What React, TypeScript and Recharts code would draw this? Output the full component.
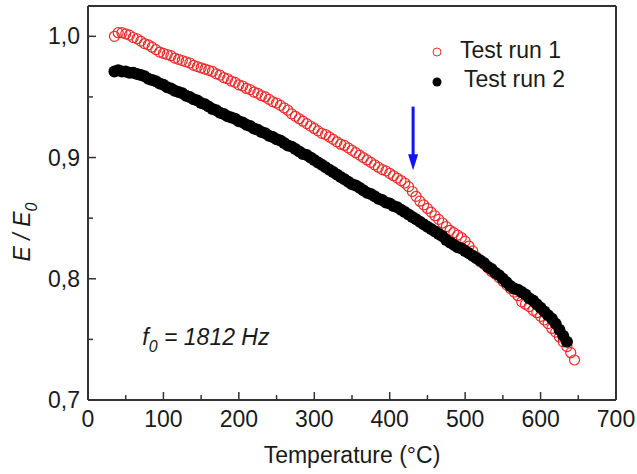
import React from "react";
import {
  ScatterChart,
  Scatter,
  XAxis,
  YAxis,
  ReferenceLine,
  ReferenceDot,
  Legend,
} from "recharts";

// Test run 1 (open red circles), temperature in °C and E/E0
const temps1 = [
  35, 40, 45, 50, 55, 60, 65, 70, 75, 80, 85, 90, 95, 100, 105, 110, 115, 120, 125, 130,
  135, 140, 145, 150, 155, 160, 165, 170, 175, 180, 185, 190, 195, 200, 205, 210, 215, 220,
  225, 230, 235, 240, 245, 250, 255, 260, 265, 270, 275, 280, 285, 290, 295, 300, 305, 310,
  315, 320, 325, 330, 335, 340, 345, 350, 355, 360, 365, 370, 375, 380, 385, 390, 395, 400,
  405, 410, 415, 420, 425, 430, 435, 440, 445, 450, 455, 460, 465, 470, 475, 480, 485, 490,
  495, 500, 505, 510, 515, 520, 525, 530, 535, 540, 545, 550, 555, 560, 565, 570, 575, 580,
  585, 590, 595, 600, 605, 610, 615, 620, 625, 630, 635, 640, 645,
];
const run1 = [
  1.0, 1.003, 1.003, 1.002, 1.001, 0.999, 0.998, 0.996, 0.994, 0.993, 0.991, 0.989, 0.987,
  0.986, 0.985, 0.984, 0.982, 0.981, 0.98, 0.979, 0.978, 0.976, 0.975, 0.974, 0.973, 0.972,
  0.971, 0.969, 0.968, 0.966, 0.965, 0.963, 0.962, 0.96, 0.959, 0.957, 0.956, 0.954, 0.953,
  0.951, 0.95, 0.948, 0.946, 0.945, 0.943, 0.941, 0.939, 0.936, 0.934, 0.932, 0.93, 0.928,
  0.926, 0.924, 0.922, 0.92, 0.919, 0.917, 0.915, 0.913, 0.911, 0.91, 0.908, 0.906, 0.904,
  0.902, 0.9, 0.898, 0.896, 0.894, 0.892, 0.89, 0.889, 0.887, 0.885, 0.883, 0.881, 0.879,
  0.876, 0.872, 0.868, 0.864, 0.861, 0.858, 0.855, 0.852, 0.849, 0.846, 0.843, 0.84, 0.838,
  0.836, 0.834, 0.831, 0.827, 0.823, 0.818, 0.814, 0.812, 0.809, 0.806, 0.804, 0.801, 0.798,
  0.795, 0.792, 0.789, 0.786, 0.781, 0.779, 0.777, 0.774, 0.772, 0.769, 0.766, 0.763, 0.759,
  0.756, 0.752, 0.748, 0.744, 0.739, 0.733,
];

// Test run 2 (filled black circles)
const temps2 = [
  35, 40, 45, 50, 55, 60, 65, 70, 75, 80, 85, 90, 95, 100, 105, 110, 115, 120, 125, 130,
  135, 140, 145, 150, 155, 160, 165, 170, 175, 180, 185, 190, 195, 200, 205, 210, 215, 220,
  225, 230, 235, 240, 245, 250, 255, 260, 265, 270, 275, 280, 285, 290, 295, 300, 305, 310,
  315, 320, 325, 330, 335, 340, 345, 350, 355, 360, 365, 370, 375, 380, 385, 390, 395, 400,
  405, 410, 415, 420, 425, 430, 435, 440, 445, 450, 455, 460, 465, 470, 475, 480, 485, 490,
  495, 500, 505, 510, 515, 520, 525, 530, 535, 540, 545, 550, 555, 560, 565, 570, 575, 580,
  585, 590, 595, 600, 605, 610, 615, 620, 625, 630, 635,
];
const run2 = [
  0.971, 0.972, 0.971, 0.971, 0.97, 0.97, 0.969, 0.968, 0.967, 0.965, 0.964, 0.963, 0.961,
  0.96, 0.958, 0.957, 0.955, 0.954, 0.953, 0.951, 0.95, 0.948, 0.947, 0.945, 0.944, 0.942,
  0.94, 0.939, 0.937, 0.936, 0.934, 0.933, 0.932, 0.93, 0.929, 0.927, 0.926, 0.924, 0.923,
  0.921, 0.92, 0.918, 0.917, 0.915, 0.914, 0.912, 0.91, 0.909, 0.907, 0.905, 0.903, 0.902,
  0.9, 0.898, 0.896, 0.894, 0.892, 0.89, 0.888, 0.886, 0.884, 0.882, 0.88, 0.878, 0.877,
  0.875, 0.873, 0.871, 0.87, 0.868, 0.866, 0.865, 0.863, 0.862, 0.86, 0.859, 0.857, 0.855,
  0.853, 0.851, 0.849, 0.847, 0.845, 0.843, 0.841, 0.839, 0.837, 0.835, 0.832, 0.83, 0.828,
  0.826, 0.825, 0.823, 0.821, 0.819, 0.817, 0.815, 0.813, 0.81, 0.808, 0.805, 0.803, 0.8,
  0.797, 0.794, 0.792, 0.791, 0.789, 0.787, 0.784, 0.782, 0.779, 0.776, 0.773, 0.77, 0.767,
  0.763, 0.758, 0.753, 0.748,
];

const xTicks = [0, 50, 100, 150, 200, 250, 300, 350, 400, 450, 500, 550, 600, 650, 700];
const yTicks = [0.7, 0.75, 0.8, 0.85, 0.9, 0.95, 1.0];

const seriesNames = ["Test run 1", "Test run 2"];
const arrowT = 431;
const arrowTop = 0.942;
const arrowTip = 0.8895;

const FONT = "'Liberation Sans', Arial, sans-serif";
const INK = "#1a1a1a";
const AXIS = "#333";
const RED = "#ec2b2b";
const BLUE = "#1212ff";

const run1Data = temps1.map((t, i) => ({ t, e: run1[i] }));
const run2Data = temps2.map((t, i) => ({ t, e: run2[i] }));

const XTick = (props: any) => {
  const { x, y, payload } = props;
  const major = payload.value % 100 === 0;
  return (
    <g>
      <line x1={x} y1={y} x2={x} y2={y - (major ? 8 : 5)} stroke={AXIS} strokeWidth={1.5} />
      {major && (
        <text x={x} y={y + 27} textAnchor="middle" fontSize={23} fontFamily={FONT} fill={INK}>
          {payload.value}
        </text>
      )}
    </g>
  );
};

const YTick = (props: any) => {
  const { x, y, payload } = props;
  const v = payload.value;
  const major = Math.abs(v * 10 - Math.round(v * 10)) < 1e-6;
  return (
    <g>
      <line x1={x} y1={y} x2={x + (major ? 8 : 5)} y2={y} stroke={AXIS} strokeWidth={1.5} />
      {major && (
        <text x={x - 8} y={y + 8} textAnchor="end" fontSize={23} fontFamily={FONT} fill={INK}>
          {v.toFixed(1).replace(".", ",")}
        </text>
      )}
    </g>
  );
};

const OpenCircle = (props: any) => (
  <circle cx={props.cx} cy={props.cy} r={5} fill="none" stroke={RED} strokeWidth={1.2} />
);

const FilledCircle = (props: any) => (
  <circle cx={props.cx} cy={props.cy} r={6} fill="#000" />
);

const LegendBox = (props: any) => {
  const items = props.payload || [];
  return (
    <svg width={180} height={70} style={{ overflow: "visible" }}>
      {items.map((item: any, i: number) => (
        <g key={i}>
          {i === 0 ? (
            <circle cx={17} cy={22} r={4} fill="none" stroke={RED} strokeWidth={1} />
          ) : (
            <circle cx={17} cy={52} r={4.5} fill="#000" />
          )}
          <text
            x={i === 0 ? 40 : 44}
            y={i === 0 ? 28 : 57}
            fontSize={23}
            fontFamily={FONT}
            fill={INK}
          >
            {item.value}
          </text>
        </g>
      ))}
    </svg>
  );
};

const YLabel = () => (
  <text
    transform="translate(30, 232) rotate(-90)"
    textAnchor="middle"
    fontSize={23}
    fontFamily={FONT}
    fontStyle="italic"
    fill={INK}
  >
    E / E<tspan dy={7} fontSize={16}>0</tspan>
  </text>
);

const XLabel = () => (
  <text x={352} y={463} textAnchor="middle" fontSize={23} fontFamily={FONT} fill={INK}>
    Temperature (°C)
  </text>
);

const FreqNote = (props: any) => (
  <text x={props.cx} y={props.cy} fontSize={23} fontFamily={FONT} fontStyle="italic" fill={INK}>
    f<tspan dy={7} fontSize={16}>0</tspan>
    <tspan dy={-7}> = 1812 Hz</tspan>
  </text>
);

const ArrowHead = (props: any) => {
  const { cx, cy } = props;
  return <polygon points={`${cx - 5},${cy - 16} ${cx + 5},${cy - 16} ${cx},${cy}`} fill={BLUE} />;
};

export default function App() {
  return (
    <div style={{ position: "absolute", left: 0, top: 0, background: "#fff" }}>
      <ScatterChart width={637} height={474} margin={{ top: 6, right: 21, left: 8, bottom: 34 }}>
        <XAxis
          type="number"
          dataKey="t"
          domain={[0, 700]}
          ticks={xTicks}
          interval={0}
          tickSize={0}
          tickMargin={0}
          tickLine={false}
          tick={<XTick />}
          axisLine={{ stroke: AXIS, strokeWidth: 2 }}
          height={40}
          label={{ content: XLabel }}
        />
        <YAxis
          type="number"
          dataKey="e"
          domain={[0.7, 1.025]}
          allowDataOverflow
          ticks={yTicks}
          interval={0}
          tickSize={0}
          tickMargin={0}
          tickLine={false}
          tick={<YTick />}
          axisLine={{ stroke: AXIS, strokeWidth: 2 }}
          width={80}
          label={{ content: YLabel }}
        />
        <ReferenceLine y={1.025} stroke={AXIS} strokeWidth={2} />
        <ReferenceLine x={700} stroke={AXIS} strokeWidth={2} />
        <Scatter
          name={seriesNames[0]}
          data={run1Data}
          fill={RED}
          shape={OpenCircle}
          isAnimationActive={false}
        />
        <Scatter
          name={seriesNames[1]}
          data={run2Data}
          fill="#000"
          shape={FilledCircle}
          isAnimationActive={false}
        />
        <ReferenceLine
          segment={[
            { x: arrowT, y: arrowTop },
            { x: arrowT, y: arrowTip + 0.01 },
          ]}
          stroke={BLUE}
          strokeWidth={3}
        />
        <ReferenceDot x={arrowT} y={arrowTip} shape={ArrowHead} />
        <ReferenceDot x={72} y={0.745} shape={FreqNote} />
        <Legend
          layout="horizontal"
          verticalAlign="middle"
          content={LegendBox}
          wrapperStyle={{ left: 420, top: 30, width: 180, height: 70 }}
        />
      </ScatterChart>
    </div>
  );
}
